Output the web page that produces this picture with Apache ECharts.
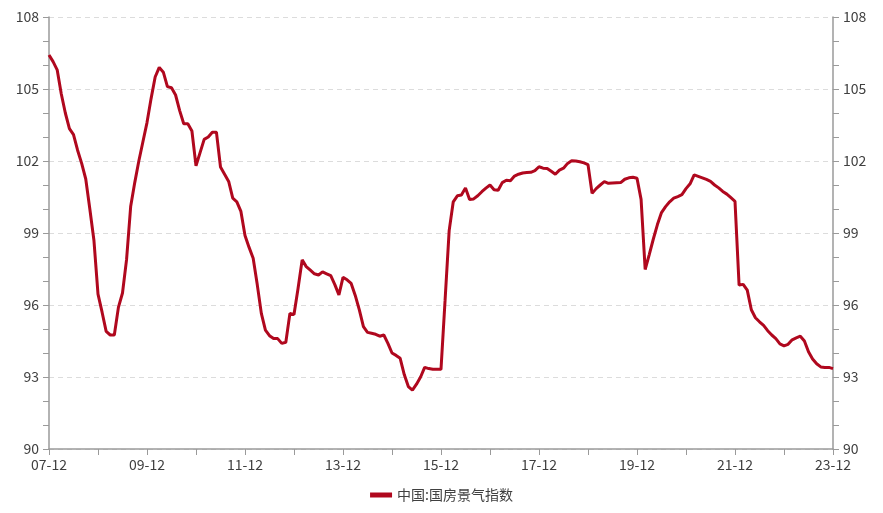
<!DOCTYPE html>
<html>
<head>
<meta charset="utf-8">
<script src="https://cdn.jsdelivr.net/npm/echarts@6/dist/echarts.min.js"></script>
<style>html,body{margin:0;padding:0;background:#fff;}#c{width:883px;height:513px;}</style>
</head>
<body>
<div id="c"></div>
<script>
// Monthly categories from 2007-12 to 2023-12
var startYear = 2007, startMonth = 12, monthCount = 193;
var categories = [];
for (var k = 0; k < monthCount; k++) {
  var m = startMonth - 1 + k;
  var y = startYear + Math.floor(m / 12);
  var mm = (m % 12) + 1;
  categories.push(String(y % 100).padStart(2, '0') + '-' + String(mm).padStart(2, '0'));
}
var seriesName = '中国:国房景气指数';
var values = [
  106.42,106.14,105.8,104.8,104.0,103.35,103.1,102.45,101.9,101.25,100.0,98.7,
  96.45,95.7,94.9,94.75,94.75,95.9,96.5,97.9,100.1,101.1,102.0,102.8,
  103.6,104.6,105.5,105.9,105.7,105.1,105.05,104.75,104.1,103.55,103.55,103.25,
  101.8,102.35,102.9,103.0,103.2,103.2,101.75,101.45,101.15,100.45,100.3,99.9,
  98.9,98.4,97.95,96.85,95.65,94.95,94.72,94.6,94.6,94.4,94.45,95.65,
  95.6,96.7,97.88,97.6,97.45,97.3,97.25,97.38,97.3,97.22,96.85,96.42,
  97.15,97.05,96.9,96.4,95.8,95.1,94.86,94.82,94.78,94.7,94.75,94.4,
  94.0,93.9,93.78,93.1,92.6,92.45,92.7,93.0,93.4,93.35,93.32,93.32,
  93.32,96.2,99.1,100.3,100.55,100.58,100.88,100.4,100.42,100.55,100.72,100.87,
  101.0,100.8,100.78,101.1,101.2,101.18,101.37,101.45,101.5,101.52,101.53,101.6,
  101.76,101.7,101.69,101.57,101.45,101.62,101.7,101.9,102.01,102.0,101.97,101.92,
  101.85,100.65,100.85,101.0,101.14,101.07,101.08,101.09,101.1,101.24,101.3,101.32,
  101.28,100.4,97.48,98.1,98.75,99.35,99.85,100.1,100.3,100.45,100.52,100.6,
  100.85,101.05,101.42,101.36,101.3,101.23,101.15,101.0,100.88,100.73,100.62,100.47,
  100.32,96.83,96.86,96.62,95.8,95.47,95.3,95.15,94.93,94.75,94.6,94.38,
  94.3,94.36,94.55,94.63,94.7,94.5,94.05,93.75,93.55,93.42,93.4,93.4,
  93.35
];
var yMin = 90, yMax = 108, yStep = 3;

var font = '"Noto Sans CJK SC", "Noto Sans", sans-serif';
var axisColor = '#9a9a9a';
var textColor = '#404040';
function yAxisCfg(pos, grid) {
  return {
    type: 'value', position: pos, min: yMin, max: yMax, interval: yStep,
    axisLine: { show: true, lineStyle: { color: axisColor, width: 1.5 } },
    axisTick: { show: true, length: 6, lineStyle: { color: axisColor } },
    minorTick: { show: true, splitNumber: 3, length: 6, lineStyle: { color: axisColor } },
    axisLabel: { color: textColor, fontSize: 14, fontFamily: font, margin: 10 },
    splitLine: { show: grid, lineStyle: { color: '#dcdcdc', type: [5, 4], width: 1 } },
    minorSplitLine: { show: false }
  };
}
var chart = echarts.init(document.getElementById('c'), null, { renderer: 'canvas' });
chart.setOption({
  animation: false,
  backgroundColor: '#ffffff',
  grid: { left: 49, right: 50, top: 17, bottom: 64, containLabel: false },
  legend: {
    bottom: 6, left: 'center',
    data: [seriesName],
    icon: 'rect', itemWidth: 22, itemHeight: 5, itemGap: 10,
    textStyle: { color: textColor, fontSize: 14, fontFamily: font }
  },
  xAxis: {
    type: 'category', data: categories, boundaryGap: false,
    axisLine: { show: true, lineStyle: { color: axisColor, width: 1.5 } },
    axisTick: { show: true, interval: 11, length: 6, lineStyle: { color: axisColor } },
    axisLabel: { interval: 23, color: textColor, fontSize: 14, fontFamily: font, margin: 9 },
    splitLine: { show: false }
  },
  yAxis: [yAxisCfg('left', true), yAxisCfg('right', false)],
  series: [{
    name: seriesName, type: 'line', data: values, yAxisIndex: 0,
    showSymbol: false, symbol: 'none',
    lineStyle: { color: '#B0081E', width: 3 },
    itemStyle: { color: '#B0081E' }
  }]
});
</script>
</body>
</html>
